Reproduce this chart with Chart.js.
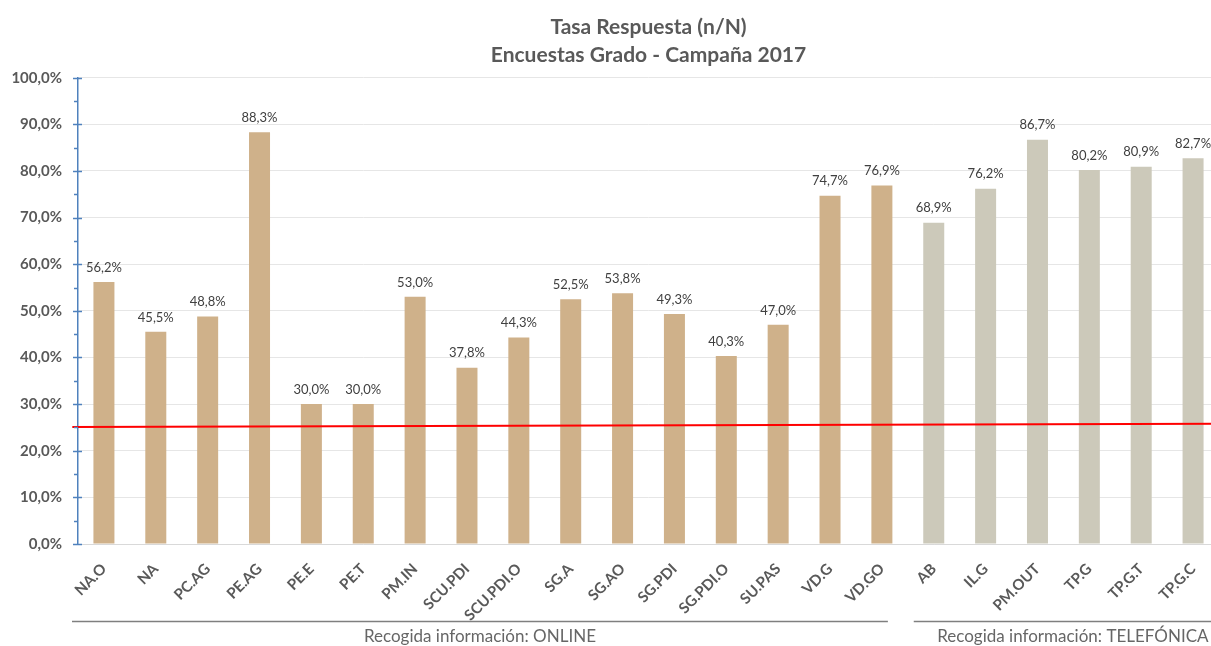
<!DOCTYPE html>
<html>
<head>
<meta charset="utf-8">
<script src="https://cdn.jsdelivr.net/npm/chart.js@4.4.0/dist/chart.umd.min.js"></script>
<style>
  html, body { margin: 0; padding: 0; background: #ffffff; overflow: hidden; }
  #wrap { width: 1225px; height: 646px; }
</style>
</head>
<body>
<div id="wrap"><canvas id="c" width="1225" height="646"></canvas></div>
<script>
// ---- DATA ----
const categories = ['NA.O','NA','PC.AG','PE.AG','PE.E','PE.T','PM.IN','SCU.PDI','SCU.PDI.O','SG.A','SG.AO','SG.PDI','SG.PDI.O','SU.PAS','VD.G','VD.GO','AB','IL.G','PM.OUT','TP.G','TP.G.T','TP.G.C'];
const rates = [56.2,45.5,48.8,88.3,30.0,30.0,53.0,37.8,44.3,52.5,53.8,49.3,40.3,47.0,74.7,76.9,68.9,76.2,86.7,80.2,80.9,82.7];
const groupNames = ['Recogida información: ONLINE','Recogida información: TELEFÓNICA'];
const groupSizes = [16, 6];
const groupColors = ['#CFB18A', '#CCC9BA'];
const targetLineX = [-0.005, 1];
const targetLineY = [25.1, 25.8];
const titleLines = ['Tasa Respuesta (n/N)', 'Encuestas Grado - Campaña 2017'];
const yTicks = [0,10,20,30,40,50,60,70,80,90,100];

const FONT = 'Lato, "Open Sans", sans-serif';
const fmt = v => v.toFixed(1).replace('.', ',') + '%';

const barColors = [];
groupSizes.forEach((n, g) => { for (let i = 0; i < n; i++) barColors.push(groupColors[g]); });

const decor = {
  id: 'decor',
  afterDatasetsDraw(chart) {
    const ctx = chart.ctx;
    const ca = chart.chartArea;
    const ys = chart.scales.y;
    const xs = chart.scales.x;
    ctx.save();
    // y axis ticks
    ctx.strokeStyle = '#4F81BD';
    ctx.lineWidth = 1.5;
    for (let v = 0; v <= 100; v += 5) {
      const y = Math.round(ys.getPixelForValue(v)) + 0.5;
      ctx.beginPath();
      if (v % 10 === 0) { ctx.moveTo(ca.left - 5, y); ctx.lineTo(ca.left + 4, y); }
      else { ctx.moveTo(ca.left - 4, y); ctx.lineTo(ca.left, y); }
      ctx.stroke();
    }
    // data labels
    const meta = chart.getDatasetMeta(0);
    ctx.fillStyle = '#404040';
    ctx.font = '13px ' + FONT;
    ctx.textAlign = 'center';
    ctx.textBaseline = 'bottom';
    meta.data.forEach((bar, i) => {
      ctx.fillText(fmt(rates[i]), bar.x, bar.y - 8);
    });
    // group brackets
    const lineY = 621.5;
    ctx.strokeStyle = '#7F7F7F';
    ctx.lineWidth = 1.5;
    const firstEnd = groupSizes[0] - 1;
    const segs = [
      [ca.left - 6, xs.getPixelForValue(firstEnd) + 6],
      [xs.getPixelForValue(firstEnd + 1) - 20, ca.right + 13]
    ];
    ctx.fillStyle = '#666666';
    ctx.font = '17px ' + FONT;
    ctx.textBaseline = 'middle';
    segs.forEach((s, g) => {
      ctx.beginPath();
      ctx.moveTo(s[0], lineY);
      ctx.lineTo(s[1], lineY);
      ctx.stroke();
      ctx.fillText(groupNames[g], (s[0] + s[1]) / 2, 637);
    });
    ctx.restore();
  }
};

new Chart(document.getElementById('c'), {
  type: 'bar',
  data: {
    labels: categories,
    datasets: [
      {
        type: 'bar',
        data: rates,
        backgroundColor: barColors,
        grouped: false,
        barPercentage: 0.81,
        categoryPercentage: 0.5,
        order: 2
      },
      {
        type: 'line',
        xAxisID: 'x2',
        data: targetLineX.map((x, i) => ({ x: x, y: targetLineY[i] })),
        borderColor: '#FF0000',
        borderWidth: 2,
        pointRadius: 0,
        fill: false,
        clip: false,
        order: 1
      }
    ]
  },
  options: {
    responsive: false,
    animation: false,
    layout: { padding: { left: 0, right: 6, top: 0, bottom: 0 } },
    plugins: {
      legend: { display: false },
      tooltip: { enabled: false },
      title: {
        display: true,
        fullSize: false,
        text: titleLines,
        color: '#595959',
        font: { family: FONT, size: 21, weight: 'bold', lineHeight: 1.35 },
        padding: { top: 13, bottom: 8 }
      }
    },
    scales: {
      x: {
        type: 'category',
        offset: true,
        grid: { display: false },
        border: { display: true, color: '#D9D9D9' },
        ticks: {
          autoSkip: false,
          maxRotation: 45,
          minRotation: 45,
          color: '#595959',
          padding: 8,
          font: { family: FONT, size: 15, weight: 'bold' }
        },
        afterFit(scale) { scale.height = 102; }
      },
      x2: {
        type: 'linear',
        display: false,
        offset: false,
        grid: { offset: false },
        min: 0,
        max: 1
      },
      y: {
        min: 0,
        max: 100,
        afterBuildTicks(scale) { scale.ticks = yTicks.map(v => ({ value: v })); },
        grid: { color: '#E6E6E6', drawTicks: false, lineWidth: 1 },
        border: { display: true, color: '#4F81BD', width: 1.5 },
        ticks: {
          color: '#595959',
          padding: 16,
          font: { family: FONT, size: 15, weight: 'bold' },
          callback: v => fmt(v)
        },
        afterFit(scale) { scale.width = 78; }
      }
    }
  },
  plugins: [decor]
});
</script>
</body>
</html>
